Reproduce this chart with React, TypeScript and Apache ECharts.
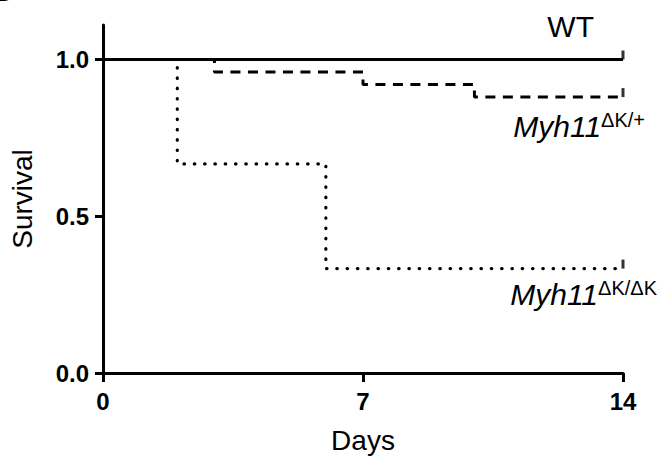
import React, { useEffect, useRef } from "react";
import * as echarts from "echarts";

// ---- data ----
const xTickValues = [0, 7, 14];
const yTickValues = [0, 0.5, 1];
const wtDays = [0, 14];
const wtSurvival = [1, 1];
const hetDays = [0, 3, 7, 10, 14];
const hetSurvival = [1, 0.96, 0.92, 0.88, 0.88];
const koDays = [0, 2, 6, 14];
const koSurvival = [1, 0.667, 0.333, 0.333];
const censorDay = 14;
const labelWT = "WT";
const labelHetMain = "Myh11";
const labelHetSup = "ΔK/+";
const labelKoMain = "Myh11";
const labelKoSup = "ΔK/ΔK";

const FONT = "'Liberation Sans', Arial, Helvetica, sans-serif";

const pairs = (xs: number[], ys: number[]) => xs.map((x, i) => [x, ys[i]]);

export default function App() {
  const ref = useRef<HTMLDivElement>(null);
  useEffect(() => {
    document.body.style.margin = "0";
    if (!ref.current) return;
    const chart = echarts.init(ref.current, null, { renderer: "svg" });
    const axisLineStyle = { color: "#000", width: 3 };
    const supRich = (main: string, sup: string) => ({
      text: `{m|${main}}{s|${sup}}`,
      rich: {
        m: { fontSize: 30, fontStyle: "italic", lineHeight: 32, fill: "#000", fontFamily: FONT },
        s: { fontSize: 20, lineHeight: 19, verticalAlign: "top", fill: "#000", fontFamily: FONT },
      },
      align: "right",
      verticalAlign: "middle",
    });
    chart.setOption({
      animation: false,
      backgroundColor: "#fff",
      textStyle: { fontFamily: FONT },
      grid: { left: 103, right: 35, top: 25, bottom: 87, containLabel: false, outerBoundsMode: "none" },
      xAxis: {
        type: "value",
        min: 0,
        max: 14,
        interval: 7,
        name: "Days",
        nameLocation: "middle",
        nameGap: 53,
        nameMoveOverlap: false,
        nameTextStyle: { fontSize: 28, color: "#000", fontFamily: FONT },
        splitLine: { show: false },
        axisLine: { lineStyle: axisLineStyle },
        axisTick: { length: 9, lineStyle: axisLineStyle, customValues: xTickValues },
        axisLabel: {
          customValues: xTickValues,
          fontSize: 24,
          fontWeight: "bold",
          color: "#000",
          margin: 16,
          fontFamily: FONT,
        },
      },
      yAxis: {
        type: "value",
        min: 0,
        max: 1.11,
        interval: 0.5,
        name: "Survival",
        nameLocation: "middle",
        nameGap: 67,
        nameRotate: 90,
        nameMoveOverlap: false,
        nameTextStyle: { fontSize: 28, color: "#000", fontFamily: FONT },
        splitLine: { show: false },
        axisLine: { lineStyle: axisLineStyle },
        axisTick: { length: 8, lineStyle: axisLineStyle, customValues: yTickValues },
        axisLabel: {
          customValues: yTickValues,
          formatter: (v: number) => v.toFixed(1),
          fontSize: 24,
          fontWeight: "bold",
          color: "#000",
          margin: 14,
          fontFamily: FONT,
        },
      },
      series: [
        {
          type: "line",
          step: "end",
          data: pairs(wtDays, wtSurvival),
          showSymbol: false,
          lineStyle: { color: "#000", width: 3 },
        },
        {
          type: "line",
          step: "end",
          data: pairs(hetDays, hetSurvival),
          showSymbol: false,
          lineStyle: { color: "#000", width: 3, type: [10, 7.5] },
        },
        {
          type: "line",
          step: "end",
          data: pairs(koDays, koSurvival),
          showSymbol: false,
          lineStyle: { color: "#000", width: 3.2, type: [0.5, 9.8], cap: "round" },
        },
        {
          type: "scatter",
          data: [
            [censorDay, wtSurvival[wtSurvival.length - 1]],
            [censorDay, hetSurvival[hetSurvival.length - 1]],
            [censorDay, koSurvival[koSurvival.length - 1]],
          ],
          symbol: "rect",
          symbolSize: [3, 9],
          symbolOffset: [0, -4.5],
          itemStyle: { color: "#000" },
          silent: true,
        },
      ],
      graphic: [
        {
          type: "text",
          x: -14,
          y: 7,
          style: { text: "B", fontSize: 40, fontWeight: "bold", fill: "#000", fontFamily: FONT, align: "left", verticalAlign: "bottom" },
        },
        {
          type: "text",
          x: 594,
          y: 26,
          style: { text: labelWT, fontSize: 30, fill: "#000", fontFamily: FONT, align: "right", verticalAlign: "middle" },
        },
        { type: "text", x: 645, y: 126, style: supRich(labelHetMain, labelHetSup) },
        { type: "text", x: 657, y: 294, style: supRich(labelKoMain, labelKoSup) },
      ],
    });
    return () => chart.dispose();
  }, []);
  return (
    <div
      ref={ref}
      style={{ position: "absolute", left: 0, top: 0, width: 658, height: 460 }}
    />
  );
}
